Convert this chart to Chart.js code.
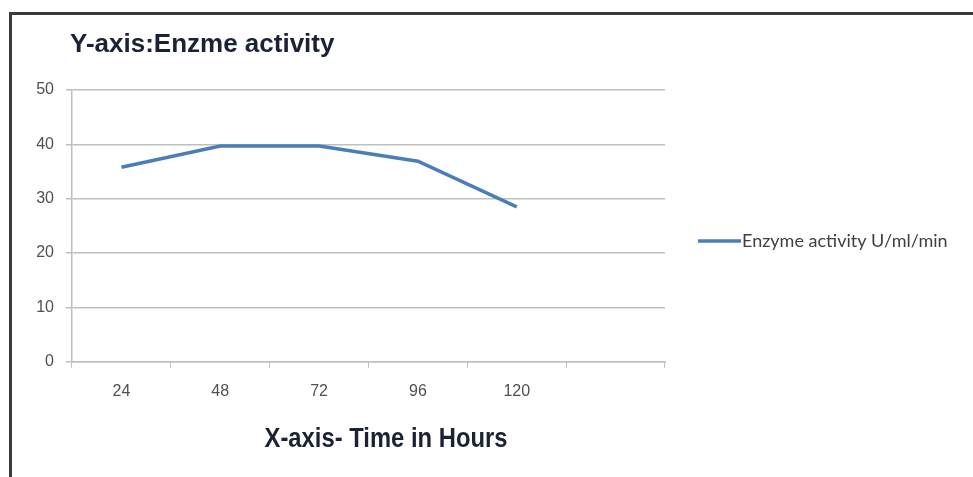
<!DOCTYPE html>
<html>
<head>
<meta charset="utf-8">
<script src="https://cdn.jsdelivr.net/npm/chart.js@4"></script>
<style>
  html, body { margin: 0; padding: 0; background: #fff; overflow: hidden; }
  #frame {
    position: absolute; left: 9px; top: 12px; width: 980px; height: 480px;
    border-left: 3px solid #3a3a3a; border-top: 3px solid #3a3a3a;
  }
  #wrap { position: absolute; left: 0; top: 0; width: 973px; height: 477px; }
</style>
</head>
<body>
<div id="frame"></div>
<div id="wrap"><canvas id="grafico" width="973" height="477"></canvas></div>
<script>
// dados do gráfico
const horas = ['24', '48', '72', '96', '120', ''];
const atividade = [35.8, 39.7, 39.7, 36.9, 28.5, null];
const ticksY = [0, 10, 20, 30, 40, 50];

const azul = '#4a7ebb';
const cinza = '#505050';

// títulos e legenda desenhados à mão, como no Excel
const extras = {
  id: 'extras',
  afterDraw(chart) {
    const c = chart.ctx;
    c.save();
    c.fillStyle = '#1b2233';
    c.textBaseline = 'alphabetic';
    c.font = 'bold 26px "Liberation Sans", Arial';
    c.textAlign = 'left';
    c.fillText('Y-axis:Enzme activity', 70, 52);

    // fonte estreita (tipo Arial Narrow)
    c.save();
    c.translate(386, 447);
    c.scale(0.85, 1);
    c.font = 'bold 28px "Liberation Sans", Arial';
    c.textAlign = 'center';
    c.fillText('X-axis- Time in Hours', 0, 0);
    c.restore();

    // legenda
    const ds = chart.data.datasets[0];
    c.strokeStyle = ds.borderColor;
    c.lineWidth = 3.5;
    c.beginPath();
    c.moveTo(698, 241);
    c.lineTo(741, 241);
    c.stroke();
    c.fillStyle = '#404040';
    c.font = '18px Lato, "Open Sans", sans-serif';
    c.textAlign = 'left';
    c.textBaseline = 'middle';
    c.fillText(ds.label, 742, 241);
    c.restore();
  }
};

new Chart(document.getElementById('grafico'), {
  type: 'line',
  data: {
    labels: horas,
    datasets: [{
      label: 'Enzyme activity U/ml/min',
      data: atividade,
      borderColor: azul,
      backgroundColor: azul,
      borderWidth: 3.5,
      pointRadius: 0,
      tension: 0,
      fill: false
    }]
  },
  options: {
    responsive: false,
    animation: false,
    layout: { padding: { left: 0, top: 90, right: 308, bottom: 62 } },
    plugins: {
      legend: { display: false },
      title: { display: false },
      tooltip: { enabled: false }
    },
    scales: {
      x: {
        offset: true,
        grid: {
          offset: true,
          drawOnChartArea: false,
          drawTicks: true,
          tickLength: 6,
          color: '#bfbfbf'
        },
        border: { color: '#bfbfbf', width: 1.5 },
        ticks: {
          color: cinza,
          font: { family: '"Liberation Sans", Arial', size: 16 },
          padding: 14,
          maxRotation: 0
        }
      },
      y: {
        min: 0,
        max: 50,
        afterBuildTicks: (s) => { s.ticks = ticksY.map(v => ({ value: v })); },
        afterFit: (s) => { s.width = 72; },
        grid: { color: '#bfbfbf', tickLength: 6, lineWidth: 1.5 },
        border: { color: '#bfbfbf', width: 1.5 },
        ticks: {
          color: cinza,
          font: { family: '"Liberation Sans", Arial', size: 16 },
          padding: 12
        }
      }
    }
  },
  plugins: [extras]
});
</script>
</body>
</html>
